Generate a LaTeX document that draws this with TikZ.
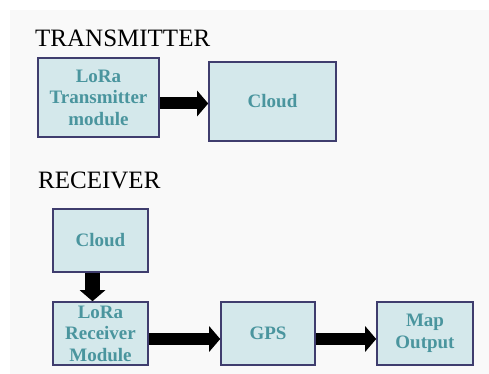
\documentclass[tikz,border=0pt]{standalone}
\usepackage{fontspec}
\setmainfont{Liberation Serif}
\usetikzlibrary{arrows.meta}
\definecolor{boxfill}{HTML}{D4E8EB}
\definecolor{boxline}{HTML}{3F3D6E}
\definecolor{boxtext}{HTML}{4A959E}
\definecolor{slidebg}{HTML}{F9F9F9}

\begin{document}
\begin{tikzpicture}[x=1pt,y=-1pt,
    blk/.style={shape=rectangle,draw=boxline,fill=boxfill,line width=1.6pt,
      text=boxtext,font=\fontsize{19}{21.5}\selectfont\bfseries,align=center,
      inner sep=0pt},
    bigarrow/.style={line width=12pt,-{Triangle[length=11pt,width=25pt]}},
    title/.style={anchor=base west,inner sep=0pt,font=\fontsize{25}{30}\selectfont}]
      \useasboundingbox (0,0) rectangle (489,374);
      \fill[slidebg] (10,10) rectangle (489,374);
      \node[title] (T) at (35,47) {TRANSMITTER};
      \node[title] (R) at (38,188) {RECEIVER};
      \node[blk,minimum width=121pt,minimum height=79pt] (tx)  at (98.5,97.5) {LoRa\\Transmitter\\module};
      \node[blk,minimum width=127pt,minimum height=79pt] (tc)  at (272.5,101.5) {Cloud};
      \node[blk,minimum width=95pt,minimum height=63pt] (rc)  at (100.5,240.5) {Cloud};
      \node[blk,minimum width=95pt,minimum height=63pt] (rx)  at (100.5,333.5) {LoRa\\Receiver\\Module};
      \node[blk,minimum width=94pt,minimum height=63pt] (gps) at (268,333.5) {GPS};
      \node[blk,minimum width=96pt,minimum height=63pt] (map) at (425,333.5) {Map\\Output};
      \coordinate (t1) at ([yshift=-6pt]tx.east);
      \coordinate (r1) at ([xshift=-8pt]rc.south);
      \coordinate (r2) at ([yshift=-5.5pt]rx.east);
      \coordinate (r3) at ([yshift=-5.5pt]gps.east);
      \draw[bigarrow] (t1) -- (t1 -| tc.west);
      \draw[bigarrow,line width=15pt] (r1) -- (r1 |- rx.north);
      \draw[bigarrow] (r2) -- (r2 -| gps.west);
      \draw[bigarrow] (r3) -- (r3 -| map.west);
    \end{tikzpicture}
\end{document}
